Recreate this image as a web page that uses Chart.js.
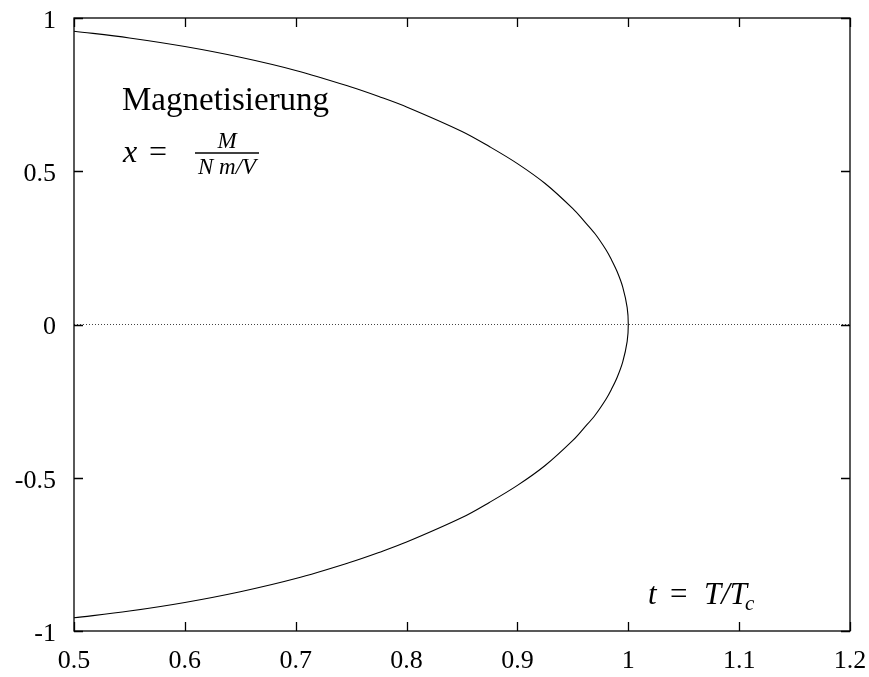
<!DOCTYPE html>
<html>
<head>
<meta charset="utf-8">
<script src="https://cdn.jsdelivr.net/npm/chart.js@4.4.1/dist/chart.umd.min.js"></script>
<style>
  html, body { margin: 0; padding: 0; background: #fff; }
  #wrap { width: 869px; height: 677px; }
</style>
</head>
<body>
<div id="wrap"><canvas id="magnet"></canvas></div>
<script>
// reduced temperature t = T/Tc
const tValues = [0.5, 0.55, 0.6, 0.65, 0.7, 0.75, 0.775, 0.8, 0.85, 0.875, 0.9, 0.925, 0.95, 0.96, 0.97, 0.98, 0.985, 0.99, 0.995, 0.999, 1.0];
// magnetisation, upper branch
const xUpper = [0.957, 0.935, 0.907, 0.872, 0.829, 0.775, 0.744, 0.710, 0.630, 0.580, 0.525, 0.460, 0.378, 0.338, 0.296, 0.243, 0.210, 0.172, 0.122, 0.055, 0];
// magnetisation, lower branch
const xLower = [-0.957, -0.935, -0.907, -0.872, -0.829, -0.775, -0.744, -0.710, -0.630, -0.580, -0.525, -0.460, -0.378, -0.338, -0.296, -0.243, -0.210, -0.172, -0.122, -0.055, 0];
// dotted zero line
const zeroT = [0.5, 1.2];
const zeroX = [0, 0];

const xTicks = [0.5, 0.6, 0.7, 0.8, 0.9, 1, 1.1, 1.2];
const yTicks = [-1, -0.5, 0, 0.5, 1];

const serif = "'Liberation Serif', 'Times New Roman', serif";

// curve goes down the upper branch to t = 1 and back along the lower one
const curve = tValues.map((t, i) => ({ x: t, y: xUpper[i] }));
for (let i = tValues.length - 2; i >= 0; i--) {
  curve.push({ x: tValues[i], y: xLower[i] });
}

// gnuplot style frame with inward ticks + the text labels
const frame = {
  id: "frame",
  afterDraw(chart) {
    const { ctx, chartArea: a, scales } = chart;
    const len = 9;
    ctx.save();
    ctx.strokeStyle = "#000";
    ctx.lineWidth = 1.3;
    ctx.beginPath();
    xTicks.forEach((v) => {
      const px = Math.round(scales.x.getPixelForValue(v)) + 0.5;
      ctx.moveTo(px, a.bottom); ctx.lineTo(px, a.bottom - len);
      ctx.moveTo(px, a.top); ctx.lineTo(px, a.top + len);
    });
    yTicks.forEach((v) => {
      const py = Math.round(scales.y.getPixelForValue(v)) + 0.5;
      ctx.moveTo(a.left, py); ctx.lineTo(a.left + len, py);
      ctx.moveTo(a.right, py); ctx.lineTo(a.right - len, py);
    });
    ctx.stroke();
    ctx.strokeRect(a.left, a.top, a.right - a.left, a.bottom - a.top);

    ctx.fillStyle = "#000";
    ctx.textBaseline = "alphabetic";
    ctx.textAlign = "left";
    ctx.font = "33px " + serif;
    ctx.fillText("Magnetisierung", 122, 110);

    // x = M / (N m/V)
    ctx.font = "italic 32px " + serif;
    ctx.fillText("x", 123, 162);
    ctx.font = "32px " + serif;
    ctx.fillText("=", 149, 162);
    ctx.lineWidth = 1.5;
    ctx.beginPath();
    ctx.moveTo(195, 153); ctx.lineTo(259, 153);
    ctx.stroke();
    ctx.font = "italic 23px " + serif;
    ctx.textAlign = "center";
    ctx.fillText("M", 227, 148);
    ctx.fillText("N m/V", 227, 174);

    // t = T / Tc
    ctx.textAlign = "left";
    ctx.font = "italic 31px " + serif;
    ctx.fillText("t", 648, 604);
    ctx.font = "31px " + serif;
    ctx.fillText("=", 670, 604);
    ctx.font = "italic 31px " + serif;
    ctx.fillText("T/T", 704, 604);
    const w = ctx.measureText("T/T").width;
    ctx.font = "italic 21px " + serif;
    ctx.fillText("c", 704 + w - 2, 610);
    ctx.restore();
  },
};

new Chart(document.getElementById("magnet"), {
  type: "scatter",
  data: {
    datasets: [
      {
        data: zeroT.map((t, i) => ({ x: t, y: zeroX[i] })),
        showLine: true,
        borderColor: "#444",
        borderWidth: 1,
        borderDash: [1, 2],
        pointRadius: 0,
      },
      {
        data: curve,
        showLine: true,
        borderColor: "#000",
        borderWidth: 1.1,
        tension: 0.35,
        pointRadius: 0,
      },
    ],
  },
  options: {
    responsive: true,
    maintainAspectRatio: false,
    animation: false,
    events: [],
    layout: { padding: { top: 18, right: 19, left: 0, bottom: 0 } },
    plugins: {
      legend: { display: false },
      tooltip: { enabled: false },
    },
    scales: {
      x: {
        type: "linear",
        min: 0.5,
        max: 1.2,
        grid: { display: false, drawTicks: false },
        border: { display: false },
        afterBuildTicks: (s) => { s.ticks = xTicks.map((v) => ({ value: v })); },
        afterFit: (s) => { s.height = 46; s.paddingLeft = 0; s.paddingRight = 0; },
        ticks: {
          color: "#000",
          font: { family: serif, size: 26 },
          padding: 15,
          maxRotation: 0,
          autoSkip: false,
          callback: (v) => String(v),
        },
      },
      y: {
        type: "linear",
        min: -1,
        max: 1,
        grid: { display: false, drawTicks: false },
        border: { display: false },
        afterBuildTicks: (s) => { s.ticks = yTicks.map((v) => ({ value: v })); },
        afterFit: (s) => { s.width = 74; s.paddingTop = 0; s.paddingBottom = 0; },
        ticks: {
          color: "#000",
          font: { family: serif, size: 26 },
          padding: 18,
          labelOffset: 3,
          autoSkip: false,
          callback: (v) => String(v),
        },
      },
    },
  },
  plugins: [frame],
});
</script>
</body>
</html>
